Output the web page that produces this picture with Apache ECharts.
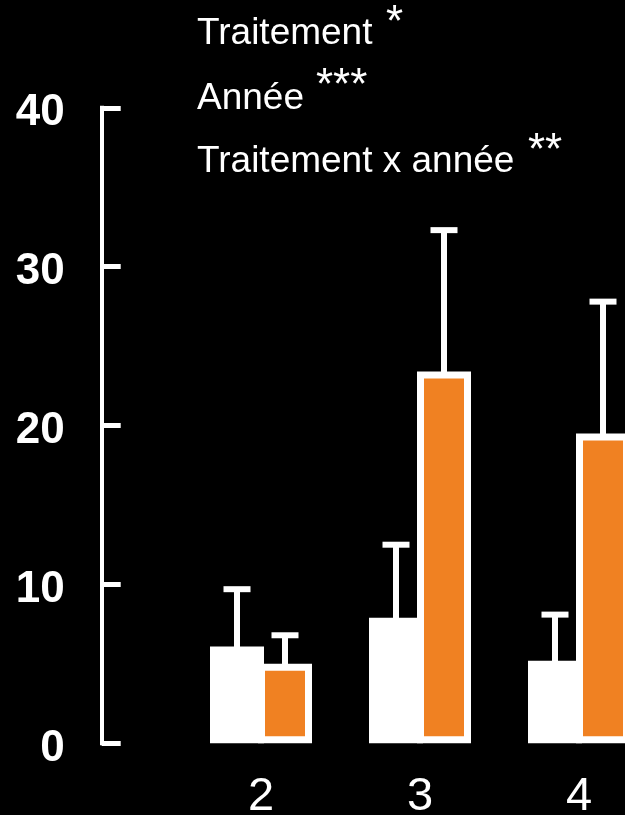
<!DOCTYPE html>
<html>
<head>
<meta charset="utf-8">
<script src="https://cdn.jsdelivr.net/npm/echarts@6/dist/echarts.min.js"></script>
<style>
html,body{margin:0;padding:0;background:#000;}
#chart{width:625px;height:815px;}
</style>
</head>
<body>
<div id="chart"></div>
<script>
var categories = ['2', '3', '4'];
var controlMeans = [6.1, 7.9, 5.2];
var controlErr = [3.6, 4.6, 2.9];
var treatedMeans = [5.0, 23.4, 19.5];
var treatedErr = [1.8, 8.9, 8.3];
var yTicks = [0, 10, 20, 30, 40];

var FONT = 'Liberation Sans, Arial, sans-serif';
var BAR_W = 54;
var SPACING = 48;
var ORANGE = '#F08122';

function errData(means, errs) {
  return means.map(function (m, i) { return [i, m, errs[i]]; });
}
function errSeries(means, errs, side) {
  return {
    type: 'custom',
    data: errData(means, errs),
    encode: { x: 0, y: 1 },
    z: 5,
    renderItem: function (params, api) {
      var idx = api.value(0);
      var m = api.value(1);
      var e = api.value(2);
      var base = api.coord([idx, m]);
      var top = api.coord([idx, m + e]);
      var cx = base[0] + side * SPACING / 2;
      return {
        type: 'group',
        children: [
          { type: 'rect', shape: { x: cx - 3, y: top[1], width: 6, height: base[1] - top[1] + 2 }, style: { fill: '#fff' } },
          { type: 'rect', shape: { x: cx - 13.5, y: top[1] - 3, width: 27, height: 6 }, style: { fill: '#fff' } }
        ]
      };
    }
  };
}

var chart = echarts.init(document.getElementById('chart'));
chart.setOption({
  backgroundColor: '#000',
  animation: false,
  grid: { left: 181.5, top: 107.8, width: 477, height: 635.5, containLabel: false, outerBoundsMode: 'none' },
  xAxis: {
    type: 'category',
    data: categories,
    axisLine: { show: false },
    axisTick: { show: false },
    axisLabel: { color: '#fff', fontSize: 47, fontFamily: FONT, margin: 30 }
  },
  yAxis: {
    type: 'value',
    min: yTicks[0],
    max: yTicks[yTicks.length - 1],
    interval: 10,
    offset: 79.8,
    splitLine: { show: false },
    axisLine: { show: true, lineStyle: { color: '#fff', width: 4, cap: 'square' } },
    axisTick: { show: true, inside: true, length: 19, lineStyle: { color: '#fff', width: 5 } },
    axisLabel: { color: '#fff', fontSize: 44, fontWeight: 'bold', fontFamily: FONT, margin: 37, verticalAlign: 'top', lineHeight: 11 }
  },
  graphic: [
    { type: 'text', left: 197, top: 15, style: { text: 'Traitement', fill: '#fff', font: '37px ' + FONT } },
    { type: 'text', left: 386, top: 2, style: { text: '*', fill: '#fff', font: '44px ' + FONT } },
    { type: 'text', left: 197, top: 80, style: { text: 'Année', fill: '#fff', font: '37px ' + FONT } },
    { type: 'text', left: 316, top: 65, style: { text: '***', fill: '#fff', font: '44px ' + FONT } },
    { type: 'text', left: 197, top: 143, style: { text: 'Traitement x année', fill: '#fff', font: '37px ' + FONT } },
    { type: 'text', left: 528, top: 130, style: { text: '**', fill: '#fff', font: '44px ' + FONT } }
  ],
  series: [
    {
      type: 'bar',
      data: controlMeans,
      barWidth: BAR_W,
      barGap: ((SPACING - BAR_W) / BAR_W * 100) + '%',
      itemStyle: { color: '#fff', borderColor: '#fff', borderWidth: 7 }
    },
    {
      type: 'bar',
      data: treatedMeans,
      barWidth: BAR_W,
      itemStyle: { color: ORANGE, borderColor: '#fff', borderWidth: 7 }
    },
    errSeries(controlMeans, controlErr, -1),
    errSeries(treatedMeans, treatedErr, 1)
  ]
});
</script>
</body>
</html>
